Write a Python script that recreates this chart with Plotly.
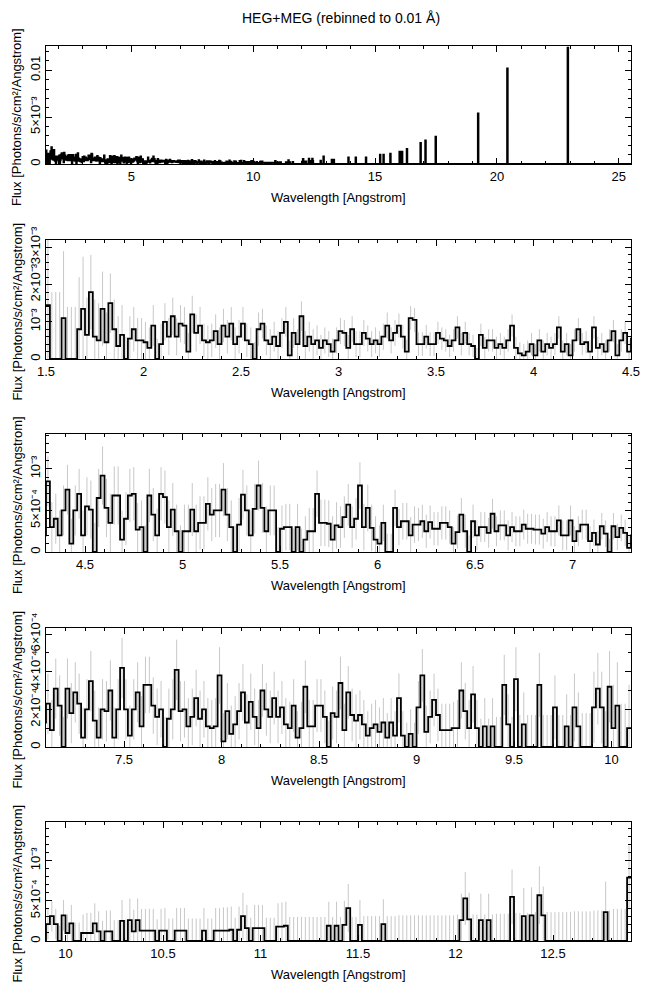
import numpy as np
import plotly.graph_objects as go

# ---------------- data (flux in units of 1e-4 photons/s/cm^2/Angstrom) ----------------
UNIT = 1e-4
BIN = 0.02          # display bin width [Angstrom]
START = 1.50        # first bin edge

# 1.50 - 4.48
flux_a = [
    14.5, 0, 0, 0, 11, 0, 0, 0, 8, 13.5, 6.5, 18, 6, 5, 13.5, 4.5, 15, 8, 3.5, 6.5, 0, 5.5, 8, 5, 5,
    4.5, 3, 9, 0, 4, 10, 6, 11.5, 6, 9.5, 9, 2, 12, 7, 9, 5, 4.5, 5, 7.5, 4, 9, 6, 9.5, 4, 6,
    9.5, 5, 4, 0, 8, 9.5, 5, 4, 6, 3.5, 7, 10, 1, 7, 4, 11.5, 3.5, 6, 4, 5, 3, 5, 4, 2, 5,
    7.5, 7, 3, 8, 4, 4, 7, 5.5, 4, 5, 4, 6, 9, 5, 7, 9, 6, 2, 11, 10.5, 4, 4, 6, 4, 4,
    7, 5.5, 5, 3.5, 5, 8.5, 4, 7, 4, 3.5, 0, 6.5, 3, 5, 5, 3, 4, 3, 5, 9, 3, 1.5, 1, 2, 4,
    1, 5, 2, 4, 3, 4, 8.5, 2, 4, 1, 5, 8, 4, 4.5, 2, 8.5, 3, 4, 2, 5, 7.5, 1, 5, 7, 2,
]
# 4.50 - 7.28
flux_b = [
    5.5, 5.1, 0, 6.5, 9.2, 5.3, 3.5, 6.8, 6.8, 1.5, 4, 6.8, 7, 2.7, 3, 0, 6.8, 4.5, 2, 7, 6.6, 3, 5.1, 2.5, 0,
    2.5, 2.5, 5.1, 2.5, 3.5, 3.5, 5.8, 4.5, 5, 5, 7.5, 4.5, 3, 0, 3.3, 6.9, 5, 2, 5.2, 8, 5.3, 2.5, 5, 5, 0,
    2.8, 3, 3, 0, 3, 0, 1.5, 2.5, 2.5, 7, 3.5, 3.5, 3.4, 1.5, 3.2, 3, 4.2, 5.7, 3, 4, 8, 3, 5.3, 2.9, 1.5,
    1, 3.5, 0, 0, 5.3, 3, 3.7, 3.7, 2, 3.3, 3.3, 3.7, 2.5, 3.6, 2.8, 2.8, 3.5, 3.5, 3, 1, 2.4, 4.5, 2.5, 0, 3.7,
    2, 3, 3, 2.3, 4.6, 2.5, 3.2, 3.2, 2, 3, 2.5, 2.5, 3.3, 2.8, 2.8, 2.7, 2.7, 2.2, 3, 2.5, 2.5, 3.8, 2, 2, 3.8,
    1.3, 2.5, 3.3, 3.3, 1.3, 2.3, 0.9, 3.1, 2.2, 0, 3.1, 1.8, 2.9, 2.3, 0.5,
]
# 7.30 - 10.08
flux_c = [
    2.0, 3.5, 1.4, 0.5, 2.0, 1.9, 3.0, 0.5, 2.0, 4.2,
    2.0, 0.6, 2.0, 2.9, 1.1, 3.3, 3.3, 2.2, 1.6, 2.0, 0, 1.5, 2.0, 4.1, 1.9, 2.0, 1.1, 1.6, 2.6, 1.5, 2.0, 1.1, 1.0, 1.1, 3.8,
    0.3, 1.9, 0.7, 1.2, 1.9, 2.9, 1.3, 2.4, 1.6, 1.0, 3.0, 2.0, 1.6, 2.6, 1.6, 2.1, 1.2, 1.0, 2.2, 0.5, 1.0, 3.2, 1.1, 1.1, 2.2,
    2.2, 1.6, 0, 1.8, 1.6, 3.4, 0.9, 2.9, 1.7, 1.4, 1.7, 1.2, 0.6, 1.0, 1.2, 0.8, 1.3, 0.5, 1.3, 0.6, 2.6, 0.6, 0, 0.7, 0,
    2.1, 3.8, 0.8, 1.6, 2.5, 1.7, 0.9, 0.9, 0.9, 1.0, 1.0, 3.0, 1.9, 1.0, 2.8, 1.0, 0, 1.1, 0, 1.1, 0, 0, 3.3, 1.2, 0,
    3.6, 0, 1.2, 0, 0, 0, 3.3, 0, 0, 0, 2.1, 0, 0, 1.1, 0, 2.1, 1.1, 0, 0, 0, 2.1, 3.1, 2.1, 0, 3.2,
    1.0, 2.2, 0, 0, 1.0,
]
# 10.10 - 12.88
flux_d = [
    1.0, 1.0, 2.2, 1.2, 0, 1.2, 1.2, 0, 0, 2.5, 0, 2.6, 1.2, 2.6, 1.3, 1.3, 1.3, 1.3, 0, 1.3, 1.3, 0, 0, 1.3, 1.3,
    1.3, 0, 0, 0, 0, 1.3, 0, 0, 1.3, 1.3, 1.3, 1.3, 1.4, 0, 1.4, 3.1, 1.6, 0, 1.6, 1.6, 1.6, 0, 0, 0, 1.8,
    1.8, 1.9, 0, 0, 0, 0, 0, 0, 0, 0, 0, 0, 1.9, 0, 1.9, 0, 2.0, 4.1, 0, 0, 2.0, 0, 0, 0, 0,
    0, 2.1, 0, 0, 0, 0, 0, 0, 0, 0, 0, 0, 0, 0, 0, 0, 0, 0, 0, 0, 0, 2.6, 5.3, 2.7, 0,
    0, 2.6, 0, 2.6, 0, 0, 0, 0, 0, 5.5, 0, 0, 3.1, 0, 3.2, 0, 5.7, 3.2, 0, 0, 0, 0, 0, 0, 0,
    0, 0, 0, 0, 0, 0, 0, 0, 3.6, 0, 0, 0, 0, 0, 7.9,
]
# typical 1-sigma error per 0.1 Angstrom cell, from 1.5 A (units 1e-4)
err_env = [
    18, 14, 10, 8, 6, 5.5, 5, 5, 4.5, 4.5, 4.5, 4, 4, 4, 3.5, 3.5, 3.5, 3.5, 3.2, 3.2,
    3, 3, 3, 3, 3, 3, 3, 3, 3, 3, 3.5, 3.5, 3.2, 3.2, 3.2, 3.2, 3.2, 3.2, 3, 3,
    2.8, 2.8, 2.8, 2.5, 2.8, 2.2, 2.2, 2, 2, 2, 1.8, 1.8, 1.8, 1.8, 1.8, 1.8, 1.6, 1.6, 1.6, 1.6,
    1.6, 1.5, 1.6, 1.5, 1.5, 1.5, 1.5, 1.4, 1.4, 1.4, 1.4, 1.4, 1.3, 1.3, 1.3, 1.4, 1.4, 1.5, 1.5, 1.6,
    1.7, 1.7, 1.7, 1.8, 1.9, 2.3, 2.5, 2.6, 2.7, 2.7, 2.8, 2.8, 2.8, 2.9, 2.9, 2.9, 3.0, 3.0, 3.0, 3.0,
    3.1, 3.1, 3.2, 3.2, 3.2, 3.3, 3.3, 3.4, 3.5, 3.6, 3.6, 3.7, 3.8, 4.0,
]
# strong emission lines beyond 12.9 A (only in the overview panel)
line_wl = [13.22, 13.30, 13.90, 14.20, 14.62, 15.20, 15.34, 15.62, 16.00, 16.10, 16.30,
           16.85, 17.07, 17.48, 19.21, 20.43, 22.91]
line_flux = [4.5, 4.5, 7, 7, 7, 10, 10, 11, 13, 13, 16, 22.5, 25, 29, 54, 102, 124]

# y tick labels per panel
yticks_p1 = ([0, 0.005, 0.01], ["0", "5×10⁻³", "0.01"])
yticks_p2 = ([0, 1e-3, 2e-3, 3e-3], ["0", "10⁻³", "2×10⁻³", "3×10⁻³"])
yticks_p3 = ([0, 5e-4, 1e-3], ["0", "5×10⁻⁴", "10⁻³"])
yticks_p4 = ([0, 2e-4, 4e-4, 6e-4], ["0", "2×10⁻⁴", "4×10⁻⁴", "6×10⁻⁴"])
yticks_p5 = ([0, 5e-4, 1e-3], ["0", "5×10⁻⁴", "10⁻³"])

TITLE = "HEG+MEG (rebinned to 0.01 Å)"
XTITLE = "Wavelength [Angstrom]"
YTITLE = "Flux [Photons/s/cm²/Angstrom]"

# ---------------- build arrays ----------------
flux = np.array(flux_a + flux_b + flux_c + flux_d, dtype=float) * UNIT
n = len(flux)
lo = START + np.arange(n) * BIN
cell = np.minimum(((lo - START) / 0.1 + 1e-6).astype(int), len(err_env) - 1)
err = np.array(err_env)[cell] * UNIT

END_CONT = START + n * BIN
ext_n = int(round((25.5 - END_CONT) / BIN))
ext_lo = END_CONT + np.arange(ext_n) * BIN
ext_flux = np.zeros(ext_n)
for wl, f in zip(line_wl, line_flux):
    k = int(round((wl - END_CONT) / BIN))
    if 0 <= k < ext_n:
        ext_flux[k] = f * UNIT

full_lo = np.concatenate([lo, ext_lo])
full_flux = np.concatenate([flux, ext_flux])


def step_xy(edges_lo, vals):
    x = list(edges_lo) + [edges_lo[-1] + BIN]
    y = list(vals) + [vals[-1]]
    return x, y


def err_xy(edges_lo, vals, errs):
    xs, ys = [], []
    for l, v, e in zip(edges_lo, vals, errs):
        c = l + BIN / 2
        xs += [c, c, None]
        ys += [max(0.0, v - e), v + e, None]
    return xs, ys


W, H = 650, 991
FONT = "Liberation Sans, Arial, Helvetica, sans-serif"
X0, X1 = 46, 631

panels = [
    dict(xr=[1.5, 25.5], yr=[0, 0.0126], top=46, bot=164, dt=5, mdt=1, yt=yticks_p1, ymdt=0.001),
    dict(xr=[1.5, 4.5], yr=[0, 3.2e-3], top=240, bot=359, dt=0.5, mdt=0.1, yt=yticks_p2, ymdt=2e-4),
    dict(xr=[4.3, 7.3], yr=[0, 1.42e-3], top=434, bot=552, dt=0.5, mdt=0.1, yt=yticks_p3, ymdt=1e-4),
    dict(xr=[7.1, 10.1], yr=[0, 6.32e-4], top=628, bot=747, dt=0.5, mdt=0.1, yt=yticks_p4, ymdt=1e-4),
    dict(xr=[9.9, 12.9], yr=[0, 1.483e-3], top=822, bot=941, dt=0.5, mdt=0.1, yt=yticks_p5, ymdt=1e-4),
]

fig = go.Figure()
layout = dict(
    width=W, height=H, autosize=False, margin=dict(l=0, r=0, t=0, b=0, pad=0, autoexpand=False),
    paper_bgcolor="white", plot_bgcolor="white", showlegend=False, hovermode=False,
    font=dict(family=FONT, size=13, color="black"),
)
annotations = [dict(text=TITLE, x=341 / W, y=1 - 18 / H, xref="paper", yref="paper",
                    showarrow=False, font=dict(size=14, family=FONT, color="black"),
                    xanchor="center", yanchor="middle")]

for i, p in enumerate(panels):
    sfx = "" if i == 0 else str(i + 1)
    xa, ya = "x" + sfx, "y" + sfx
    if i == 0:
        sx, sy = step_xy(full_lo, full_flux)
        lw = 2.0
    else:
        ex, ey = err_xy(lo, flux, err)
        fig.add_trace(go.Scatter(x=ex, y=ey, mode="lines", xaxis=xa, yaxis=ya,
                                 line=dict(color="rgb(200,200,200)", width=1), hoverinfo="skip"))
        sx, sy = step_xy(lo, flux)
        lw = 1.8
    fig.add_trace(go.Scatter(x=sx, y=sy, mode="lines", xaxis=xa, yaxis=ya,
                             line=dict(color="black", width=lw, shape="hv"), hoverinfo="skip"))

    common = dict(showline=True, linecolor="black", linewidth=1, mirror="allticks",
                  ticks="inside", ticklen=6, tickwidth=1, tickcolor="black",
                  showgrid=False, zeroline=False, automargin=False,
                  tickfont=dict(family=FONT, size=13, color="black"))
    layout["xaxis" + sfx] = dict(
        common, domain=[X0 / W, X1 / W], range=p["xr"], anchor=ya,
        tick0=0, dtick=p["dt"],
        minor=dict(tick0=0, dtick=p["mdt"], ticks="inside", ticklen=3, tickcolor="black", showgrid=False),
    )
    layout["yaxis" + sfx] = dict(
        common, domain=[1 - p["bot"] / H, 1 - p["top"] / H], range=p["yr"], anchor=xa,
        tickvals=p["yt"][0], ticktext=p["yt"][1], tickangle=-90,
        minor=dict(tick0=0, dtick=p["ymdt"], ticks="inside", ticklen=3, tickcolor="black", showgrid=False),
    )
    annotations.append(dict(text=XTITLE, x=(X0 + X1) / 2 / W, y=1 - (p["bot"] + 33) / H,
                            xref="paper", yref="paper", showarrow=False,
                            font=dict(size=13, family=FONT, color="black"),
                            xanchor="center", yanchor="middle"))
    annotations.append(dict(text=YTITLE, x=17 / W, y=1 - ((p["top"] + p["bot"]) / 2 + 12) / H,
                            xref="paper", yref="paper", showarrow=False, textangle=-90,
                            font=dict(size=13, family=FONT, color="black"),
                            xanchor="center", yanchor="middle"))

layout["annotations"] = annotations
fig.update_layout(**layout)
fig.write_html(
    "out.html",
    config={"displayModeBar": False, "staticPlot": True},
    post_script="document.body.style.margin='0px';document.body.style.overflow='hidden';",
)
